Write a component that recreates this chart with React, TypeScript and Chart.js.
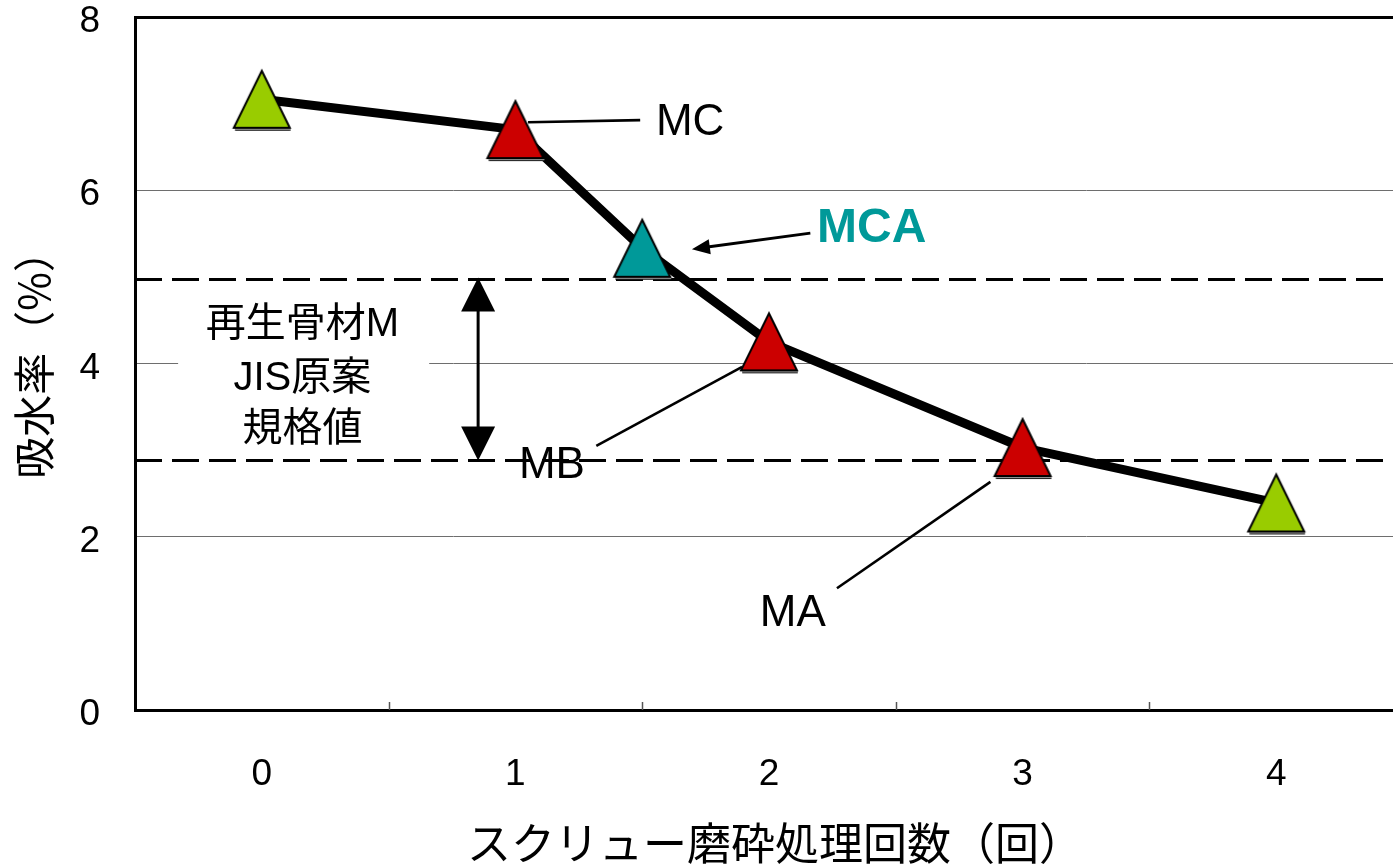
import { useEffect, useRef } from "react";
import { Chart, registerables } from "chart.js";

Chart.register(...registerables);

// Number of screw-grinding passes (x) and water absorption in % (y)
const passCounts = [0, 1, 1.5, 2, 3, 4];
const absorption = [7.05, 6.7, 5.33, 4.25, 3.03, 2.39];
const markerColors = ["#99CC00", "#CC0000", "#009999", "#CC0000", "#CC0000", "#99CC00"];

// JIS draft limits for recycled aggregate M
const limitUpper = 4.97;
const limitLower = 2.88;

const xTickValues = [0, 1, 2, 3, 4];
const xTickDividers = [0.5, 1.5, 2.5, 3.5];
const yTickValues = [0, 2, 4, 6, 8];

const captionLines = ["再生骨材M", "JIS原案", "規格値"];
const xTitle = "スクリュー磨砕処理回数（回）";
const yTitle = "吸水率（%）";

const LATIN = '"Liberation Sans", "Noto Sans CJK JP", sans-serif';
const CJK = '"Noto Sans CJK JP", "Liberation Sans", sans-serif';

function makeTriangle(fill: string): HTMLCanvasElement {
  const c = document.createElement("canvas");
  c.width = 62;
  c.height = 67;
  const ctx = c.getContext("2d")!;
  const top = 5;
  const base = 62;
  const left = 3;
  const right = 59;
  const mid = 31;
  // drop shadow
  ctx.fillStyle = "#1e1e1e";
  ctx.beginPath();
  ctx.moveTo(mid + 1, top + 3);
  ctx.lineTo(right + 1, base + 3);
  ctx.lineTo(left + 1, base + 3);
  ctx.closePath();
  ctx.fill();
  ctx.fillStyle = "#9a9a9a";
  ctx.fillRect(left + 1, base + 1, right - left, 1);
  // marker body
  ctx.fillStyle = fill;
  ctx.strokeStyle = "#000";
  ctx.lineWidth = 2;
  ctx.lineJoin = "miter";
  ctx.beginPath();
  ctx.moveTo(mid, top);
  ctx.lineTo(right, base);
  ctx.lineTo(left, base);
  ctx.closePath();
  ctx.fill();
  ctx.stroke();
  return c;
}

function arrowHead(
  ctx: CanvasRenderingContext2D,
  tipX: number,
  tipY: number,
  fromX: number,
  fromY: number,
  len: number,
  halfW: number
) {
  const ang = Math.atan2(tipY - fromY, tipX - fromX);
  const bx = tipX - len * Math.cos(ang);
  const by = tipY - len * Math.sin(ang);
  ctx.beginPath();
  ctx.moveTo(tipX, tipY);
  ctx.lineTo(bx + halfW * Math.sin(ang), by - halfW * Math.cos(ang));
  ctx.lineTo(bx - halfW * Math.sin(ang), by + halfW * Math.cos(ang));
  ctx.closePath();
  ctx.fill();
}

const annotationPlugin = {
  id: "absorptionAnnotations",
  beforeDatasetsDraw(chart: any) {
    const { ctx, scales, chartArea } = chart;
    const x = scales.x;
    const y = scales.y;
    ctx.save();
    // white panel behind the standard's caption
    const l = x.getPixelForValue(-0.33);
    const r = x.getPixelForValue(0.66);
    const t = y.getPixelForValue(4.8);
    const b = y.getPixelForValue(3.0);
    ctx.fillStyle = "#fff";
    ctx.fillRect(l, t, r - l, b - t);
    // short inside tick marks between categories
    ctx.strokeStyle = "#555";
    ctx.lineWidth = 1.5;
    for (const v of xTickDividers) {
      const px = Math.round(x.getPixelForValue(v)) + 0.5;
      ctx.beginPath();
      ctx.moveTo(px, chartArea.bottom);
      ctx.lineTo(px, chartArea.bottom - 8);
      ctx.stroke();
    }
    ctx.restore();
  },
  afterDatasetsDraw(chart: any) {
    const { ctx, scales } = chart;
    const x = scales.x;
    const y = scales.y;
    const P = (vx: number, vy: number) => [x.getPixelForValue(vx), y.getPixelForValue(vy)];
    ctx.save();
    ctx.strokeStyle = "#000";
    ctx.fillStyle = "#000";
    ctx.lineCap = "butt";

    // leader lines
    const leaders: number[][] = [
      [1.05, 6.785, 1.492, 6.81],
      [1.319, 3.05, 1.894, 3.96],
      [2.268, 1.405, 2.873, 2.633],
    ];
    ctx.lineWidth = 2.6;
    for (const [a, b, c, d] of leaders) {
      const [x1, y1] = P(a, b);
      const [x2, y2] = P(c, d);
      ctx.beginPath();
      ctx.moveTo(x1, y1);
      ctx.lineTo(x2, y2);
      ctx.stroke();
    }

    // arrow pointing at MCA
    {
      const [x1, y1] = P(2.163, 5.505);
      const [x2, y2] = P(1.696, 5.32);
      const ang = Math.atan2(y2 - y1, x2 - x1);
      ctx.lineWidth = 3;
      ctx.beginPath();
      ctx.moveTo(x1, y1);
      ctx.lineTo(x2 - 12 * Math.cos(ang), y2 - 12 * Math.sin(ang));
      ctx.stroke();
      arrowHead(ctx, x2, y2, x1, y1, 18, 7.5);
    }

    // double-headed arrow spanning the standard range
    {
      const [ax, ayTop] = P(0.853, limitUpper);
      const [, ayBot] = P(0.853, limitLower);
      ctx.lineWidth = 3;
      ctx.beginPath();
      ctx.moveTo(ax, ayTop + 20);
      ctx.lineTo(ax, ayBot - 20);
      ctx.stroke();
      arrowHead(ctx, ax, ayTop - 2, ax, ayBot, 34, 17);
      arrowHead(ctx, ax, ayBot, ax, ayTop, 34, 17);
    }

    // labels
    ctx.textAlign = "center";
    ctx.textBaseline = "middle";
    ctx.font = `44px ${LATIN}`;
    const labels: [string, number, number][] = [
      ["MC", 1.689, 6.78],
      ["MB", 1.144, 2.82],
      ["MA", 2.094, 1.11],
    ];
    for (const [txt, vx, vy] of labels) {
      const [px, py] = P(vx, vy);
      ctx.fillText(txt, px, py);
    }
    ctx.font = `bold 48px ${LATIN}`;
    ctx.fillStyle = "#009999";
    {
      const [px, py] = P(2.405, 5.55);
      ctx.fillText("MCA", px, py);
    }

    ctx.fillStyle = "#000";
    ctx.font = `40px ${LATIN}`;
    const captionY = [4.45, 3.82, 3.23];
    captionLines.forEach((line, i) => {
      const [px, py] = P(0.16, captionY[i]);
      ctx.fillText(line, px, py);
    });
    ctx.restore();
  },
  afterDraw(chart: any) {
    const { ctx, chartArea } = chart;
    ctx.save();
    ctx.fillStyle = "#000";
    ctx.textAlign = "center";
    ctx.textBaseline = "middle";
    ctx.font = `44px ${CJK}`;
    ctx.fillText(xTitle, 775, 843);
    ctx.translate(34, (chartArea.top + chartArea.bottom) / 2 - 9);
    ctx.rotate(-Math.PI / 2);
    ctx.font = `42px ${CJK}`;
    ctx.fillText(yTitle, 0, 0);
    ctx.restore();
  },
};

export default function App() {
  const canvasRef = useRef<HTMLCanvasElement | null>(null);

  useEffect(() => {
    const canvas = canvasRef.current;
    if (!canvas) return;
    const markers = markerColors.map((c) => makeTriangle(c));
    const chart = new Chart(canvas, {
      type: "line",
      data: {
        datasets: [
          {
            data: passCounts.map((v, i) => ({ x: v, y: absorption[i] })),
            borderColor: "#000",
            borderWidth: 9,
            borderJoinStyle: "round",
            tension: 0,
            pointStyle: markers as any,
            pointRadius: 10,
            order: 0,
          },
          {
            data: [
              { x: -0.5, y: limitUpper },
              { x: 4.5, y: limitUpper },
            ],
            borderColor: "#000",
            borderWidth: 3,
            borderDash: [27, 10],
            pointRadius: 0,
            order: 1,
          },
          {
            data: [
              { x: -0.5, y: limitLower },
              { x: 4.5, y: limitLower },
            ],
            borderColor: "#000",
            borderWidth: 3,
            borderDash: [27, 10],
            pointRadius: 0,
            order: 2,
          },
        ],
      },
      options: {
        animation: false,
        responsive: false,
        devicePixelRatio: 1,
        layout: { autoPadding: false, padding: { top: 17, right: 0, left: 0, bottom: 0 } },
        plugins: {
          legend: { display: false },
          tooltip: { enabled: false },
        },
        scales: {
          x: {
            type: "linear",
            min: -0.5,
            max: 4.5,
            afterBuildTicks: (s: any) => {
              s.ticks = xTickValues.map((v) => ({ value: v }));
            },
            afterFit: (s: any) => {
              s.height = 156;
              s.paddingLeft = 0;
              s.paddingRight = 0;
            },
            grid: { display: false, drawTicks: false },
            border: { display: true, color: "#000", width: 3 },
            ticks: {
              padding: 43,
              color: "#000",
              font: { family: LATIN, size: 37 },
              callback: (v: any) => String(v),
            },
          },
          y: {
            type: "linear",
            min: 0,
            max: 8,
            afterBuildTicks: (s: any) => {
              s.ticks = yTickValues.map((v) => ({ value: v }));
            },
            afterFit: (s: any) => {
              s.width = 135;
              s.paddingTop = 0;
              s.paddingBottom = 0;
            },
            grid: {
              drawTicks: false,
              color: (c: any) =>
                c.tick && c.tick.value === 8
                  ? "#000"
                  : c.tick && c.tick.value === 0
                  ? "rgba(0,0,0,0)"
                  : "#6e6e6e",
              lineWidth: (c: any) => (c.tick && c.tick.value === 8 ? 3 : 1),
            },
            border: { display: true, color: "#000", width: 3 },
            ticks: {
              padding: 35,
              labelOffset: 5,
              color: "#000",
              font: { family: LATIN, size: 37 },
              callback: (v: any) => String(v),
            },
          },
        },
      },
      plugins: [annotationPlugin],
    } as any);
    return () => chart.destroy();
  }, []);

  return (
    <div
      style={{
        position: "fixed",
        left: 0,
        top: 0,
        width: 1393,
        height: 866,
        overflow: "hidden",
        background: "#fff",
      }}
    >
      <canvas ref={canvasRef} width={1403} height={866} style={{ display: "block" }} />
    </div>
  );
}
